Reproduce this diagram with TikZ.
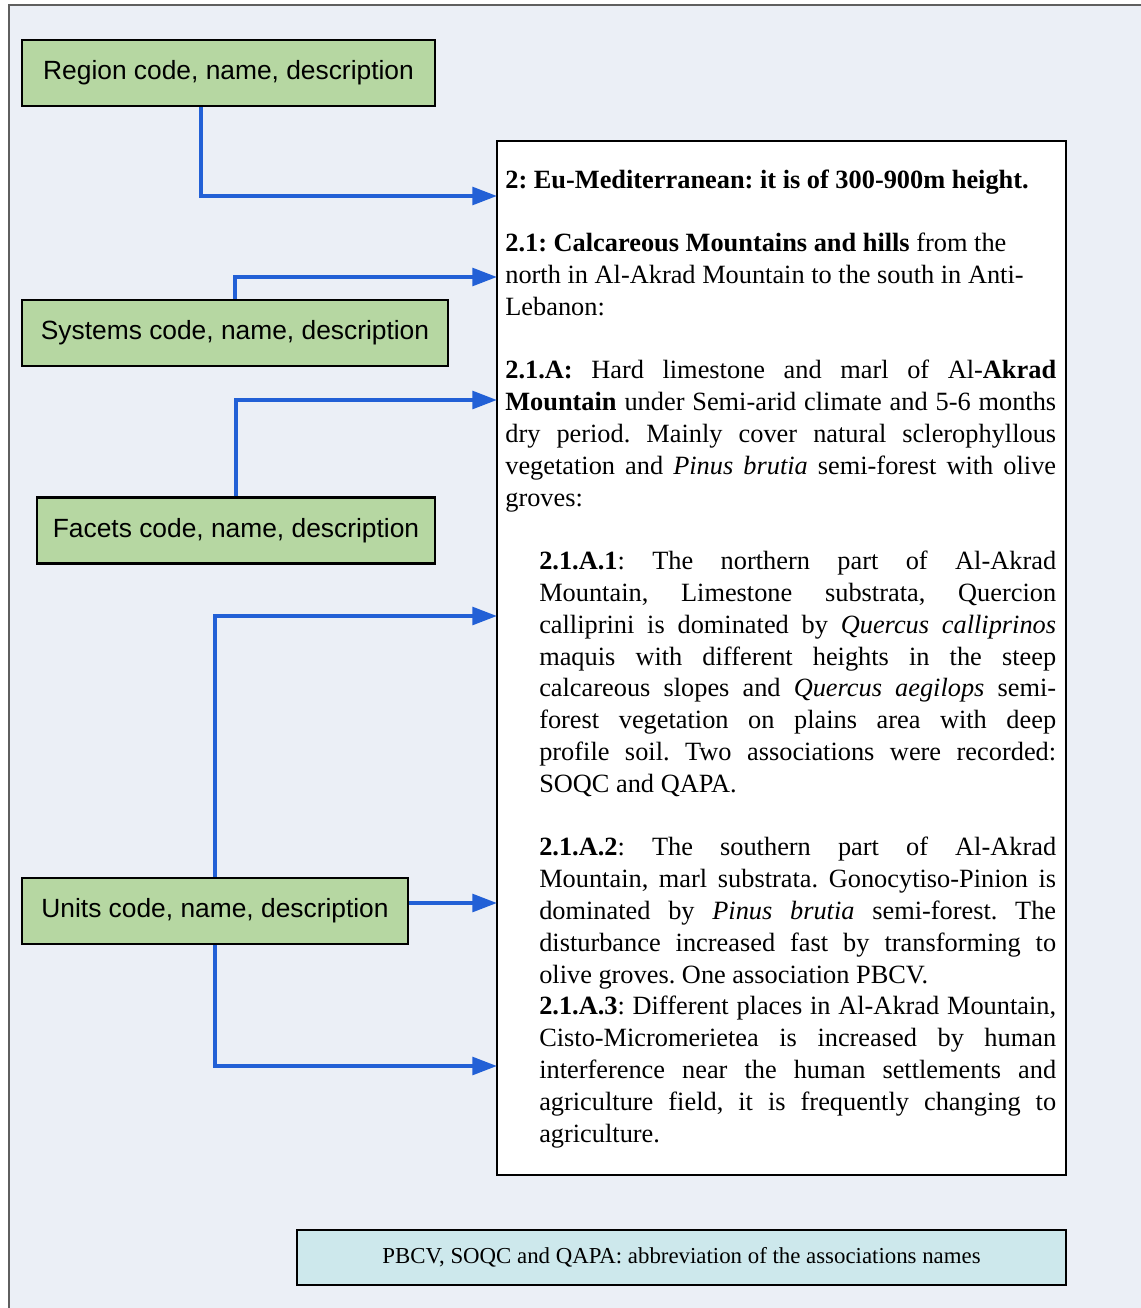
\documentclass[tikz,border=0pt]{standalone}
\usepackage{fontspec}
\setmainfont{Liberation Serif}[Ligatures=NoCommon]
\newfontfamily\arialfont{Liberation Sans}[Ligatures=NoCommon]
\usetikzlibrary{arrows.meta}
\definecolor{pagebg}{RGB}{235,239,246}
\definecolor{framegray}{RGB}{95,95,95}
\definecolor{boxgreen}{RGB}{182,215,162}
\definecolor{notecyan}{RGB}{205,232,236}
\definecolor{linkblue}{RGB}{34,96,214}
\newcommand{\blankrow}{\par\vspace{\baselineskip}}
\newcommand{\subpara}[1]{{\leftskip=19.3pt #1\endgraf}}

\begin{document}
\begin{tikzpicture}[x=0.02cm, y=-0.02cm,
  codebox/.style={draw, line width=1.4pt, fill=boxgreen, inner sep=0pt,
    minimum height=1.32cm, font=\arialfont\fontsize{15pt}{18pt}\selectfont},
  link/.style={-{Triangle[length=14pt,width=10pt]}, linkblue, line width=2.2pt}]
  \useasboundingbox (0,0) rectangle (1141,1308);
  \fill[pagebg] (9,5) rectangle (1141,1308);
  \draw[framegray, line width=1pt] (9,1308) -- (9,5) -- (1141,5);

  \node[codebox, minimum width=8.26cm] (region) at (228.5,73) {Region code, name, description};
  \node[codebox, minimum width=8.52cm] (systems) at (235,333) {Systems code, name, description};
  \node[codebox, minimum width=7.96cm] (facets) at (236,530.5) {Facets code, name, description};
  \node[codebox, minimum width=7.72cm] (units) at (215,911) {Units code, name, description};

  \node[draw, line width=1.1pt, fill=white, inner sep=0pt,
    minimum width=11.38cm, minimum height=20.68cm] (mainbox) at (781.5,658) {};
  \node[anchor=base west, inner sep=0pt, text width=313.5pt, align=justify,
    font=\fontsize{15pt}{18.1pt}\selectfont] (desc) at (505,188) {%
    \frenchspacing\tolerance=10000 \hyphenpenalty=10000
    \textbf{2: Eu-Mediterranean: it is of 300-900m height.}\blankrow
    \textbf{2.1: Calcareous Mountains and hills} from the\\
    north in Al-Akrad Mountain to the south in Anti-\\
    Lebanon:\blankrow
    \textbf{2.1.A:} Hard limestone and marl of Al-\textbf{Akrad}\linebreak
    \textbf{Mountain} under Semi-arid climate and 5-6 months\linebreak
    dry period. Mainly cover natural sclerophyllous\linebreak
    vegetation and \textit{Pinus brutia} semi-forest with olive\linebreak
    groves:\blankrow
    \subpara{\textbf{2.1.A.1}: The northern part of Al-Akrad\linebreak
    Mountain, Limestone substrata, Quercion\linebreak
    calliprini is dominated by \textit{Quercus calliprinos}\linebreak
    maquis with different heights in the steep\linebreak
    calcareous slopes and \textit{Quercus aegilops} semi-\linebreak
    forest vegetation on plains area with deep\linebreak
    profile soil. Two associations were recorded:\linebreak
    SOQC and QAPA.}\blankrow
    \subpara{\textbf{2.1.A.2}: The southern part of Al-Akrad\linebreak
    Mountain, marl substrata. Gonocytiso-Pinion is\linebreak
    dominated by \textit{Pinus brutia} semi-forest. The\linebreak
    disturbance increased fast by transforming to\linebreak
    olive groves. One association PBCV.}
    \subpara{\textbf{2.1.A.3}: Different places in Al-Akrad Mountain,\linebreak
    Cisto-Micromerietea is increased by human\linebreak
    interference near the human settlements and\linebreak
    agriculture field, it is frequently changing to\linebreak
    agriculture.}};

  \node[draw, line width=1.1pt, fill=notecyan, inner sep=0pt,
    minimum width=15.38cm, minimum height=1.1cm,
    font=\fontsize{13pt}{15pt}\selectfont] (note) at (681.5,1257.5)
    {PBCV, SOQC and QAPA: abbreviation of the associations names};

  % where the arrows meet the main box
  \coordinate (in-region) at (497,196);
  \coordinate (in-systems) at (497,277);
  \coordinate (in-facets) at (497,400);
  \coordinate (in-unit1) at (497,616);
  \coordinate (in-unit2) at (497,903);
  \coordinate (in-unit3) at (497,1066);

  \draw[link] (region.south -| 201,0) |- (in-region);
  \draw[link] (systems.north) |- (in-systems);
  \draw[link] (facets.north) |- (in-facets);
  \draw[link] (units.north) |- (in-unit1);
  \draw[link] (units.east |- in-unit2) -- (in-unit2);
  \draw[link] (units.south) |- (in-unit3);
\end{tikzpicture}
\end{document}
